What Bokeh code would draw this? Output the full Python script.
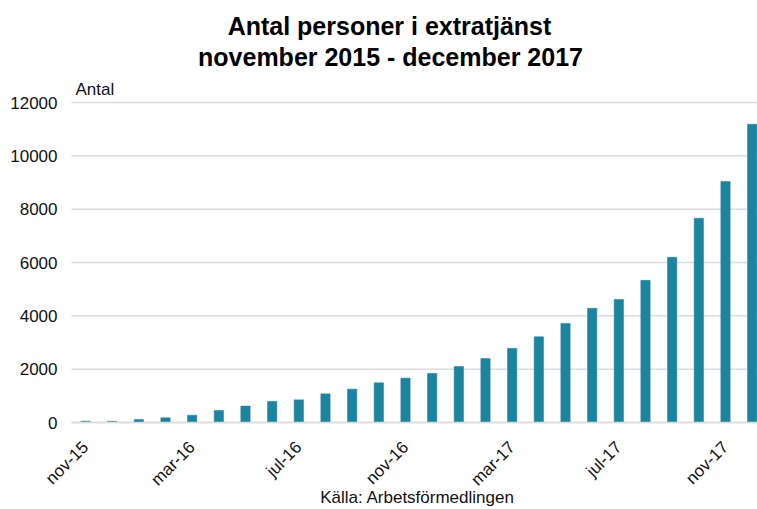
from math import pi
from bokeh.plotting import figure
from bokeh.models import Range1d, FixedTicker, Label, ColumnDataSource
from bokeh.embed import file_html
from bokeh.resources import INLINE

# ---- data ----
months = ["nov-15", "dec-15", "jan-16", "feb-16", "mar-16", "apr-16", "maj-16",
          "jun-16", "jul-16", "aug-16", "sep-16", "okt-16", "nov-16", "dec-16",
          "jan-17", "feb-17", "mar-17", "apr-17", "maj-17", "jun-17", "jul-17",
          "aug-17", "sep-17", "okt-17", "nov-17", "dec-17"]
antal = [50, 45, 110, 175, 275, 450, 615, 790, 850, 1075, 1250, 1490, 1665,
         1840, 2100, 2400, 2780, 3215, 3715, 4280, 4615, 5330, 6195, 7660,
         9035, 11185]
tick_months = ["nov-15", "mar-16", "jul-16", "nov-16", "mar-17", "jul-17", "nov-17"]
y_ticks = [0, 2000, 4000, 6000, 8000, 10000, 12000]

title_1 = "Antal personer i extratjänst"
title_2 = "november 2015 - december 2017"
y_title = "Antal"
source_text = "Källa: Arbetsförmedlingen"

FONT = "Liberation Sans"
BAR = "#1b84a0"
GRID = "#dcdcdc"
TXT = "#111111"

idx = list(range(len(months)))
src = ColumnDataSource(dict(x=idx, top=antal, month=months))

# The frame fills the whole canvas. The plotting area proper starts 71 px from
# the left; the value axis 0..12000 spans 320 px with zero 87 px above bottom.
W, H = 757, 509
LEFT_PX = 71
ZERO_FROM_BOTTOM = 87
PX_PER_VAL = 320.0 / y_ticks[-1]
PX_PER_CAT = 26.67
cat_lo = -0.525                      # left edge of the plotting area
cat_hi = 25.2                        # right edge
x_start = cat_lo - LEFT_PX / PX_PER_CAT
y_lo = -ZERO_FROM_BOTTOM / PX_PER_VAL
y_hi = (H - ZERO_FROM_BOTTOM) / PX_PER_VAL

p = figure(width=W, height=H, output_backend="svg", toolbar_location=None,
           title=None, x_range=Range1d(x_start, cat_hi), y_range=Range1d(y_lo, y_hi),
           min_border_left=0, min_border_right=0, min_border_top=0,
           min_border_bottom=0)
p.outline_line_color = None
p.background_fill_color = "white"
p.border_fill_color = "white"

# horizontal gridlines limited to the plotting area
grid_src = ColumnDataSource(dict(y=y_ticks, x0=[cat_lo] * len(y_ticks),
                                 x1=[cat_hi] * len(y_ticks)))
p.segment(x0="x0", y0="y", x1="x1", y1="y", source=grid_src,
          line_color=GRID, line_width=1.5)

p.vbar(x="x", top="top", width=0.35, source=src, fill_color=BAR,
       line_color=BAR, line_width=0.5)

p.xgrid.grid_line_color = None
p.ygrid.grid_line_color = None

# y axis at the left edge of the plotting area
p.yaxis.fixed_location = cat_lo
p.yaxis.ticker = FixedTicker(ticks=y_ticks)
p.yaxis.axis_line_color = None
p.yaxis.major_tick_line_color = None
p.yaxis.minor_tick_line_color = None
p.yaxis.major_tick_out = 0
p.yaxis.major_label_standoff = 14
p.yaxis.major_label_text_font = FONT
p.yaxis.major_label_text_font_size = "17px"
p.yaxis.major_label_text_color = TXT

# x axis at value 0
tick_pos = [months.index(m) for m in tick_months]
p.xaxis.fixed_location = 0
p.xaxis.bounds = (cat_lo, cat_hi)
p.xaxis.ticker = FixedTicker(ticks=tick_pos)
p.xaxis.major_label_overrides = {i: months[i] for i in tick_pos}
p.xaxis.major_label_orientation = pi / 4
p.xaxis.axis_line_color = GRID
p.xaxis.axis_line_width = 1.5
p.xaxis.major_tick_line_color = None
p.xaxis.minor_tick_line_color = None
p.xaxis.major_tick_out = 0
p.xaxis.major_label_standoff = 22
p.xaxis.major_label_text_font = FONT
p.xaxis.major_label_text_font_size = "17px"
p.xaxis.major_label_text_color = TXT

# texts (screen units relative to the frame, origin bottom-left)
for txt, x, y in [(title_1, 389, 484), (title_2, 390, 453)]:
    p.add_layout(Label(x=x, y=y, x_units="screen", y_units="screen", text=txt,
                       text_font=FONT, text_font_size="25px",
                       text_font_style="bold", text_align="center",
                       text_baseline="alphabetic", text_color="#000000"))

p.add_layout(Label(x=75, y=420, x_units="screen", y_units="screen", text=y_title,
                   text_font=FONT, text_font_size="17px", text_align="left",
                   text_baseline="alphabetic", text_color=TXT))

p.add_layout(Label(x=417, y=12, x_units="screen", y_units="screen",
                   text=source_text, text_font=FONT, text_font_size="17px",
                   text_align="center", text_baseline="alphabetic",
                   text_color=TXT))

open("out.html", "w").write(file_html(p, INLINE))
